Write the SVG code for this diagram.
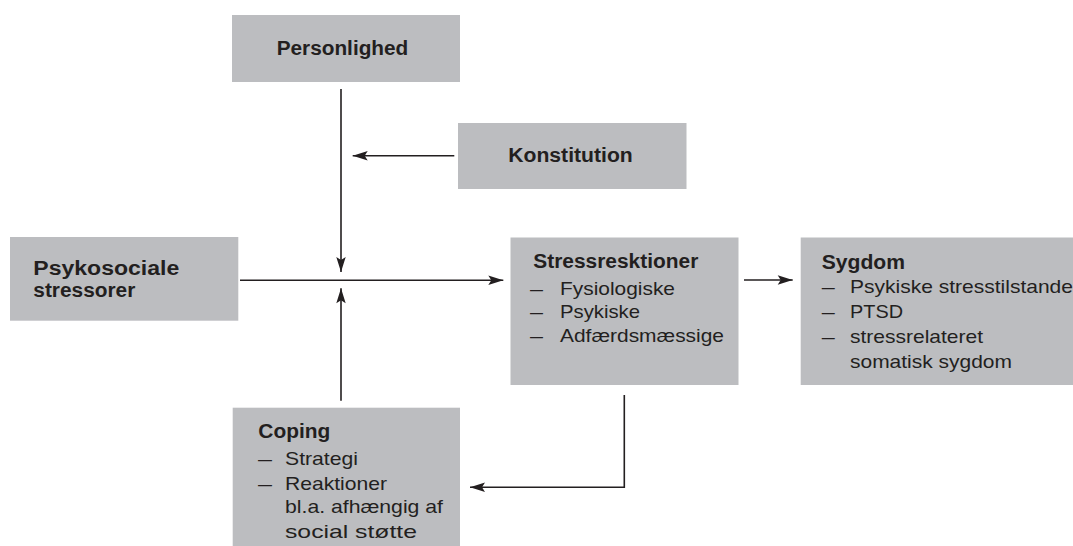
<svg xmlns="http://www.w3.org/2000/svg" width="1073" height="546" viewBox="0 0 1073 546">
<defs>
<style>
.box{fill:#bcbdc0;}
text{font-family:"Liberation Sans",Arial,Helvetica,sans-serif;fill:#231f20;}
.t{font-weight:bold;font-size:20px;}
.r{font-size:19px;}
.c{fill:none;stroke:#231f20;stroke-width:1.6;marker-end:url(#ah);}
</style>
<marker id="ah" viewBox="-16 -6 17 12" refX="0" refY="0" markerWidth="17" markerHeight="12" orient="auto" markerUnits="userSpaceOnUse">
<path d="M0,0 L-15,-4.7 L-12,0 L-15,4.7 Z" fill="#231f20"/>
</marker>
</defs>
<rect width="1073" height="546" fill="#ffffff"/>

<g id="personlighed">
<rect class="box" x="232" y="15" width="228" height="67"/>
<text class="t" x="276.7" y="55" textLength="131.6" lengthAdjust="spacingAndGlyphs">Personlighed</text>
</g>

<g id="konstitution">
<rect class="box" x="458" y="123" width="228.5" height="66"/>
<text class="t" x="508.3" y="161.5" textLength="124.4" lengthAdjust="spacingAndGlyphs">Konstitution</text>
</g>

<g id="psykosociale">
<rect class="box" x="10" y="237" width="228.3" height="83.7"/>
<text class="t" x="33.3" y="275" textLength="146" lengthAdjust="spacingAndGlyphs">Psykosociale</text>
<text class="t" x="33.3" y="297" textLength="102" lengthAdjust="spacingAndGlyphs">stressorer</text>
</g>

<g id="stressreaktioner">
<rect class="box" x="510.5" y="237.5" width="228" height="147.5"/>
<text class="t" x="533.3" y="268" textLength="165" lengthAdjust="spacingAndGlyphs">Stressresktioner</text>
<text class="r" x="530" y="294.5" textLength="13" lengthAdjust="spacingAndGlyphs">–</text>
<text class="r" x="560" y="294.5" textLength="115" lengthAdjust="spacingAndGlyphs">Fysiologiske</text>
<text class="r" x="530" y="318" textLength="13" lengthAdjust="spacingAndGlyphs">–</text>
<text class="r" x="560" y="318" textLength="80" lengthAdjust="spacingAndGlyphs">Psykiske</text>
<text class="r" x="530" y="342" textLength="13" lengthAdjust="spacingAndGlyphs">–</text>
<text class="r" x="560" y="342" textLength="164" lengthAdjust="spacingAndGlyphs">Adfærdsmæssige</text>
</g>

<g id="sygdom">
<rect class="box" x="800.7" y="237.5" width="280" height="147.5"/>
<text class="t" x="821.7" y="268.5" textLength="83.3" lengthAdjust="spacingAndGlyphs">Sygdom</text>
<text class="r" x="821.7" y="293" textLength="13" lengthAdjust="spacingAndGlyphs">–</text>
<text class="r" x="850" y="293" textLength="223" lengthAdjust="spacingAndGlyphs">Psykiske stresstilstande</text>
<text class="r" x="821.7" y="318" textLength="13" lengthAdjust="spacingAndGlyphs">–</text>
<text class="r" x="850" y="318" textLength="53" lengthAdjust="spacingAndGlyphs">PTSD</text>
<text class="r" x="821.7" y="343" textLength="13" lengthAdjust="spacingAndGlyphs">–</text>
<text class="r" x="850" y="343" textLength="133" lengthAdjust="spacingAndGlyphs">stressrelateret</text>
<text class="r" x="850" y="368" textLength="162" lengthAdjust="spacingAndGlyphs">somatisk sygdom</text>
</g>

<g id="coping">
<rect class="box" x="232.7" y="407.7" width="227.3" height="150"/>
<text class="t" x="258.3" y="438" textLength="72" lengthAdjust="spacingAndGlyphs">Coping</text>
<text class="r" x="258" y="465" textLength="14" lengthAdjust="spacingAndGlyphs">–</text>
<text class="r" x="285" y="465" textLength="73" lengthAdjust="spacingAndGlyphs">Strategi</text>
<text class="r" x="258" y="490" textLength="14" lengthAdjust="spacingAndGlyphs">–</text>
<text class="r" x="285" y="490" textLength="102" lengthAdjust="spacingAndGlyphs">Reaktioner</text>
<text class="r" x="285" y="513" textLength="158" lengthAdjust="spacingAndGlyphs">bl.a. afhængig af</text>
<text class="r" x="285" y="538" textLength="132" lengthAdjust="spacingAndGlyphs">social støtte</text>
</g>

<g id="connectors">
<path class="c" d="M341,89 V272"/>
<path class="c" d="M454.3,155.7 H352.7"/>
<path class="c" d="M240,280.3 H503.3"/>
<path class="c" d="M341,400.7 V288.3"/>
<path class="c" d="M744,280 H792.7"/>
<path class="c" d="M624.3,395 V487.3 H470"/>
</g>
</svg>
